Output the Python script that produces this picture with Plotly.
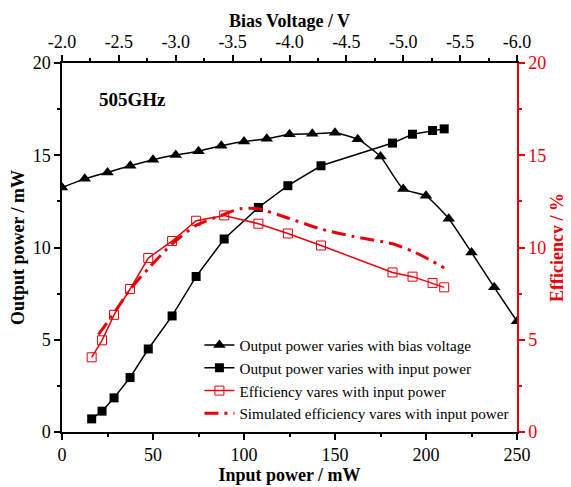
import plotly.graph_objects as go

# Output power vs bias voltage (top axis)
bias_v = [-2.0, -2.2, -2.4, -2.6, -2.8, -3.0, -3.2, -3.4, -3.6, -3.8, -4.0,
          -4.2, -4.4, -4.6, -4.8, -5.0, -5.2, -5.4, -5.6, -5.8, -6.0]
pout_bias = [13.25, 13.72, 14.07, 14.43, 14.76, 15.01, 15.22, 15.51, 15.74, 15.89, 16.14,
             16.16, 16.22, 15.87, 14.93, 13.17, 12.8, 11.56, 9.73, 7.84, 6.0]

# Output power & efficiency vs input power (bottom axis)
pin = [16.3, 22.0, 28.6, 37.4, 47.4, 60.5, 73.7, 89.1, 107.9, 124.1, 142.3, 181.6, 192.6, 203.6, 210.0]
pout_pin = [0.71, 1.13, 1.85, 2.95, 4.5, 6.29, 8.43, 10.46, 12.17, 13.35, 14.43, 15.66, 16.14, 16.34, 16.43]
eff = [4.05, 4.97, 6.35, 7.75, 9.43, 10.35, 11.45, 11.74, 11.29, 10.76, 10.11, 8.65, 8.42, 8.08, 7.84]

# Simulated efficiency
pin_sim = [20.0, 28.6, 37.4, 47.4, 60.5, 73.7, 89.1, 98.0, 107.9, 124.1, 142.3, 160.0, 181.6, 192.6, 203.6, 210.0]
eff_sim = [5.28, 6.45, 7.72, 8.85, 10.2, 11.2, 11.8, 12.1, 12.1, 11.6, 11.0, 10.6, 10.2, 9.8, 9.25, 8.89]

bias_ticks = [-2.0, -2.5, -3.0, -3.5, -4.0, -4.5, -5.0, -5.5, -6.0]
bias_ticktext = ["-2.0", "-2.5", "-3.0", "-3.5", "-4.0", "-4.5", "-5.0", "-5.5", "-6.0"]

FONT = "Liberation Serif"
RED = "#e8000b"

fig = go.Figure()
fig.add_trace(go.Scatter(
    x=bias_v, y=pout_bias, xaxis="x2", yaxis="y", mode="lines+markers",
    name="Output power varies with bias voltage",
    line=dict(color="black", width=1.5, shape="spline", smoothing=0.5),
    marker=dict(symbol="triangle-up", size=11, color="black")))
fig.add_trace(go.Scatter(
    x=pin, y=pout_pin, xaxis="x", yaxis="y", mode="lines+markers",
    name="Output power varies with input power",
    line=dict(color="black", width=1.5),
    marker=dict(symbol="square", size=9, color="black")))
fig.add_trace(go.Scatter(
    x=pin, y=eff, xaxis="x", yaxis="y2", mode="lines+markers",
    name="Efficiency vares with input power",
    line=dict(color=RED, width=1.5),
    marker=dict(symbol="square-open", size=9, color=RED, line=dict(width=1))))
fig.add_trace(go.Scatter(
    x=pin_sim, y=eff_sim, xaxis="x", yaxis="y2", mode="lines",
    name="Simulated efficiency vares with input power",
    line=dict(color=RED, width=3, dash="14px,6px,3px,6px", shape="spline", smoothing=0.6)))

tickfont = dict(family=FONT, size=18, color="black")
titlefont = dict(family=FONT, size=18, color="black", weight="bold")

fig.update_layout(
    width=563, height=479,
    margin=dict(l=54, r=54, t=55, b=55),
    paper_bgcolor="white", plot_bgcolor="white",
    font=dict(family=FONT, color="black"),
    showlegend=True,
    legend=dict(x=0.302, y=0.28, xanchor="left", yanchor="top",
                font=dict(family=FONT, size=15.2, color="black"),
                bgcolor="rgba(0,0,0,0)", tracegroupgap=0, itemwidth=30),
    xaxis=dict(range=[0, 250], dtick=50, tick0=0, showgrid=False, zeroline=False,
               automargin=False,
               showline=True, linecolor="black", linewidth=1.5,
               ticks="outside", ticklen=6, tickwidth=1.5, tickcolor="black",
               minor=dict(dtick=25, ticks="outside", ticklen=3, tickcolor="black", tickwidth=1.5),
               tickfont=tickfont,
               title=dict(text="Input power / mW", font=titlefont, standoff=2)),
    xaxis2=dict(range=[-2.0, -6.0], overlaying="x", side="top", anchor="y",
                automargin=False,
                tickvals=bias_ticks, ticktext=bias_ticktext,
                showgrid=False, zeroline=False,
                showline=True, linecolor="black", linewidth=1.5,
                ticks="outside", ticklen=6, tickwidth=1.5, tickcolor="black",
                minor=dict(dtick=0.25, tick0=-2.0, ticks="outside", ticklen=3, tickcolor="black", tickwidth=1.5),
                tickfont=tickfont,
                title=dict(text="Bias Voltage / V", font=titlefont, standoff=0)),
    yaxis=dict(range=[0, 20], dtick=5, tick0=0, showgrid=False, zeroline=False,
               automargin=False,
               showline=True, linecolor="black", linewidth=1.5,
               ticks="outside", ticklen=6, tickwidth=1.5, tickcolor="black",
               minor=dict(dtick=2.5, ticks="outside", ticklen=3, tickcolor="black", tickwidth=1.5),
               tickfont=tickfont,
               title=dict(text="Output power / mW", font=titlefont, standoff=5)),
    yaxis2=dict(range=[0, 20], dtick=5, tick0=0, overlaying="y", side="right", anchor="x",
                automargin=False,
                showgrid=False, zeroline=False,
                showline=True, linecolor=RED, linewidth=1.5,
                ticks="outside", ticklen=6, tickwidth=1.5, tickcolor=RED,
                minor=dict(dtick=2.5, ticks="outside", ticklen=3, tickcolor=RED, tickwidth=1.5),
                tickfont=dict(family=FONT, size=18, color=RED),
                title=dict(text="Efficiency / %", font=dict(family=FONT, size=18, color=RED, weight="bold"), standoff=5)),
    annotations=[dict(text="<b>505GHz</b>", x=0.077, y=0.902, xref="paper", yref="paper",
                      xanchor="left", yanchor="middle", showarrow=False,
                      font=dict(family=FONT, size=19, color="black"))],
)

fig.write_html("out.html")
